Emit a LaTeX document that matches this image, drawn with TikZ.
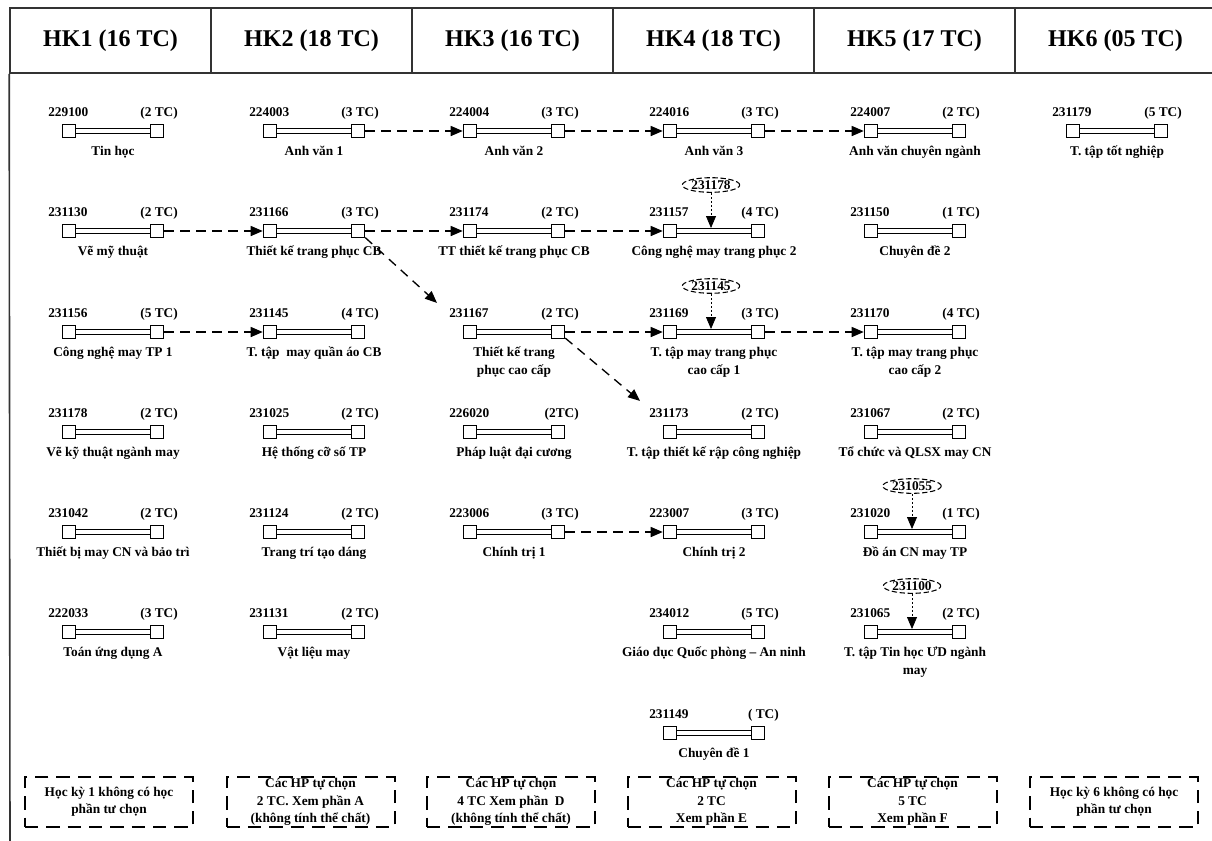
\documentclass[tikz,border=0pt]{standalone}
\usepackage{fontspec}
\setmainfont{Liberation Serif}
\usetikzlibrary{arrows.meta,shapes.geometric}

% Hoc phan: x, y, Ma so, Tin chi, Ten
\newcommand{\hocphan}[5]{%
  \coordinate (hp#3) at (#1,#2);
  \node[hpbox] (hp#3l) at ([shift={(-44,0)}]hp#3) {};
  \node[hpbox] (hp#3r) at ([shift={(44,0)}]hp#3) {};
  \draw[hpbar] (hp#3l) -- (hp#3r);
  \node[hptext, anchor=base west] (hp#3m) at ([shift={(-65,-15)}]hp#3) {#3};
  \node[hptext, anchor=base east] (hp#3t) at ([shift={(65,-15)}]hp#3) {#4};
  \node[hptext, anchor=north, align=center] (hp#3n) at ([shift={(0,12)}]hp#3) {\vphantom{Ế}#5};
}
% Tien quyet: Hoc phan, Ma so
\newcommand{\tienquyet}[2]{%
  \node[tqnut] (#1q) at ([shift={(-3,-46)}]#1) {#2};
  \coordinate (#1p) at ([shift={(-3,-3)}]#1);
  \draw[tqarrow] (#1q) -- (#1p);
}

\begin{document}
\begin{tikzpicture}[x=0.75pt, y=-0.75pt,
    hk/.style={draw=black!80, line width=1.2pt, minimum width=150.75pt, minimum height=48.75pt,
      font=\fontsize{18}{22}\selectfont\bfseries},
    hpbox/.style={draw, fill=white, line width=0.9pt, minimum size=10pt, inner sep=0pt},
    hpbar/.style={double, double distance=2.6pt, line width=1pt},
    hptext/.style={font=\fontsize{10}{13.5}\selectfont\bfseries, inner sep=0pt},
    dep/.style={line width=1pt, dash pattern=on 7pt off 5pt, -{Triangle[length=9pt,width=7.5pt]}},
    tqnut/.style={ellipse, draw, dash pattern=on 4pt off 2pt, line width=0.8pt, inner sep=0.5pt,
      font=\fontsize{10}{12}\selectfont\bfseries},
    tqarrow/.style={line width=0.6pt, dash pattern=on 1.5pt off 1.5pt, -{Triangle[length=9pt,width=7.5pt]}},
    tuchon/.style={draw, line width=1.5pt, dash pattern=on 10pt off 6pt, minimum width=126pt,
      minimum height=37.5pt, inner sep=0pt, align=center, font=\fontsize{10}{13}\selectfont\bfseries}]
    \useasboundingbox[fill=white] (0,0) rectangle (1212,840);
    % Kopfzeile
    \node[hk] (hk1) at (110.5,40.5) {HK1 (16 TC)};
    \node[hk] (hk2) at (311.5,40.5) {HK2 (18 TC)};
    \node[hk] (hk3) at (512.5,40.5) {HK3 (16 TC)};
    \node[hk] (hk4) at (713.5,40.5) {HK4 (18 TC)};
    \node[hk] (hk5) at (914.5,40.5) {HK5 (17 TC)};
    \node[hk] (hk6) at (1115.5,40.5) {HK6 (05 TC)};
    \draw[draw=black!80, line width=1.2pt] (hk1.south west) -- (10,850);
    % HK1
    \hocphan{113}{131}{229100}{(2 TC)}{Tin học}
    \hocphan{113}{231}{231130}{(2 TC)}{Vẽ mỹ thuật}
    \hocphan{113}{332}{231156}{(5 TC)}{Công nghệ may TP 1}
    \hocphan{113}{432}{231178}{(2 TC)}{Vẽ kỹ thuật ngành may}
    \hocphan{113}{532}{231042}{(2 TC)}{Thiết bị may CN và bảo trì}
    \hocphan{113}{632}{222033}{(3 TC)}{Toán ứng dụng A}
    % HK2
    \hocphan{314}{131}{224003}{(3 TC)}{Anh văn 1}
    \hocphan{314}{231}{231166}{(3 TC)}{Thiết kế trang phục CB}
    \hocphan{314}{332}{231145}{(4 TC)}{T. tập~ may quần áo CB}
    \hocphan{314}{432}{231025}{(2 TC)}{Hệ thống cỡ số TP}
    \hocphan{314}{532}{231124}{(2 TC)}{Trang trí tạo dáng}
    \hocphan{314}{632}{231131}{(2 TC)}{Vật liệu may}
    % HK3
    \hocphan{514}{131}{224004}{(3 TC)}{Anh văn 2}
    \hocphan{514}{231}{231174}{(2 TC)}{TT thiết kế trang phục CB}
    \hocphan{514}{332}{231167}{(2 TC)}{Thiết kế trang\\phục cao cấp}
    \hocphan{514}{432}{226020}{(2TC)}{Pháp luật đại cương}
    \hocphan{514}{532}{223006}{(3 TC)}{Chính trị 1}
    % HK4
    \hocphan{714}{131}{224016}{(3 TC)}{Anh văn 3}
    \hocphan{714}{231}{231157}{(4 TC)}{Công nghệ may trang phục 2}
    \hocphan{714}{332}{231169}{(3 TC)}{T. tập may trang phục\\cao cấp 1}
    \hocphan{714}{432}{231173}{(2 TC)}{T. tập thiết kế rập công nghiệp}
    \hocphan{714}{532}{223007}{(3 TC)}{Chính trị 2}
    \hocphan{714}{632}{234012}{(5 TC)}{Giáo dục Quốc phòng – An ninh}
    \hocphan{714}{733}{231149}{( TC)}{Chuyên đề 1}
    % HK5
    \hocphan{915}{131}{224007}{(2 TC)}{Anh văn chuyên ngành}
    \hocphan{915}{231}{231150}{(1 TC)}{Chuyên đề 2}
    \hocphan{915}{332}{231170}{(4 TC)}{T. tập may trang phục\\cao cấp 2}
    \hocphan{915}{432}{231067}{(2 TC)}{Tổ chức và QLSX may CN}
    \hocphan{915}{532}{231020}{(1 TC)}{Đồ án CN may TP}
    \hocphan{915}{632}{231065}{(2 TC)}{T. tập Tin học ƯD ngành\\may}
    % HK6
    \hocphan{1117}{131}{231179}{(5 TC)}{T. tập tốt nghiệp}
    % Tien quyet
    \tienquyet{hp231157}{231178}
    \tienquyet{hp231169}{231145}
    \tienquyet{hp231020}{231055}
    \tienquyet{hp231065}{231100}
    % Hoc truoc
    \draw[dep] (hp224003r) -- (hp224004l);
    \draw[dep] (hp224004r) -- (hp224016l);
    \draw[dep] (hp224016r) -- (hp224007l);
    \draw[dep] (hp231130r) -- (hp231166l);
    \draw[dep] (hp231166r) -- (hp231174l);
    \draw[dep] (hp231174r) -- (hp231157l);
    \draw[dep] (hp231156r) -- (hp231145l);
    \draw[dep] (hp231167r) -- (hp231169l);
    \draw[dep] (hp231169r) -- (hp231170l);
    \draw[dep] (hp223006r) -- (hp223007l);
    \coordinate (d1) at ([shift={(-12,-5)}]hp231167m.north west);
    \draw[dep] (hp231166r) -- (d1);
    \coordinate (d2) at ([shift={(-9,-7)}]hp231173m.north west);
    \draw[dep] (hp231167r) -- (d2);
    % Tu chon
    \node[tuchon] (tc1) at (109,802) {Học kỳ 1 không có học\\phần tư chọn};
    \node[tuchon] (tc2) at (310.5,802) {Các HP tự chọn\\2 TC. Xem phần A\\(không tính thể chất)};
    \node[tuchon] (tc3) at (511,802) {Các HP tự chọn\\4 TC Xem phần~ D\\(không tính thể chất)};
    \node[tuchon] (tc4) at (711.5,802) {Các HP tự chọn\\2 TC\\Xem phần E};
    \node[tuchon] (tc5) at (912.5,802) {Các HP tự chọn\\5 TC\\Xem phần F};
    \node[tuchon] (tc6) at (1114,802) {Học kỳ 6 không có học\\phần tư chọn};
\end{tikzpicture}
\end{document}
